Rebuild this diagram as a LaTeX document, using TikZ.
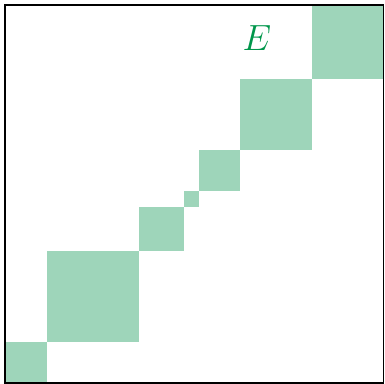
\documentclass[tikz,border=0pt]{standalone}
\usepackage{tikz}
\definecolor{blockgreen}{RGB}{158,213,186}
\definecolor{labelgreen}{RGB}{0,150,75}
\begin{document}
\begin{tikzpicture}[x=0.02cm,y=-0.02cm,
  block/.style={fill=blockgreen,draw=none},
  frame/.style={draw=black,line width=1.5*0.02cm}]
\useasboundingbox (0,0) rectangle (385,384);
\fill[block] (5,342) rectangle (47,383);
\fill[block] (47,251) rectangle (139,342);
\fill[block] (139,207) rectangle (184,251);
\fill[block] (184,191) rectangle (199,207);
\fill[block] (199,150) rectangle (240,191);
\fill[block] (240,79) rectangle (312,150);
\fill[block] (312,5) rectangle (383,79);
\node[text=labelgreen,inner sep=0pt,font=\fontsize{21}{24}\selectfont] (E) at (257,38) {$E$};
\draw[frame] (5,5) rectangle (383.5,383);
\end{tikzpicture}
\end{document}
